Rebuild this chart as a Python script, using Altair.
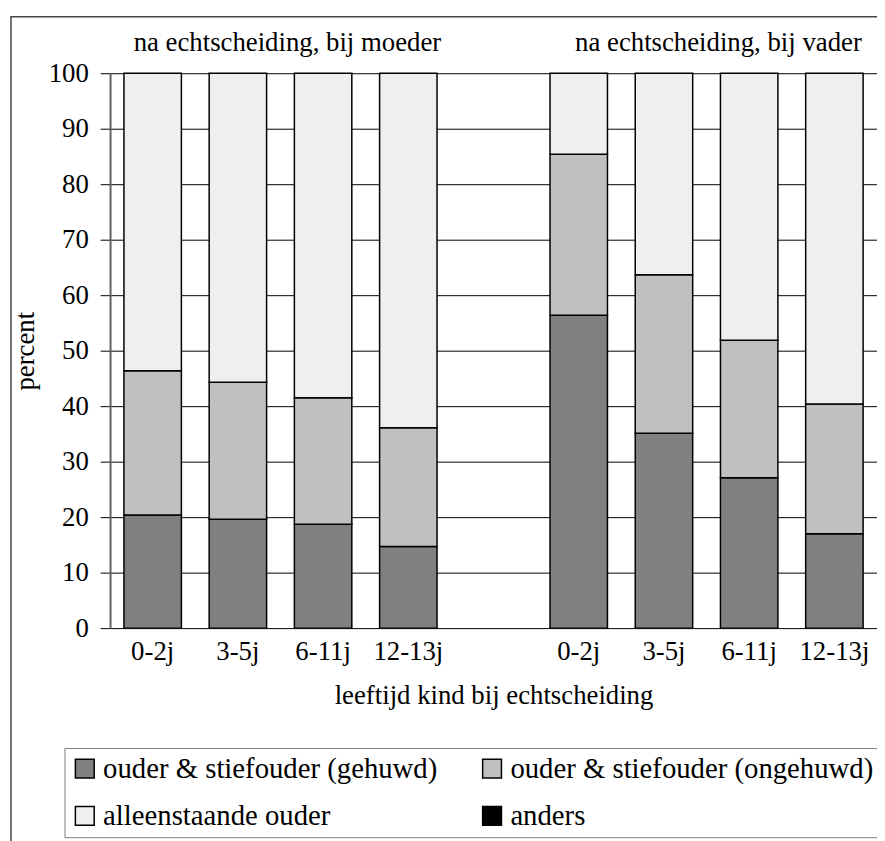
import altair as alt
import pandas as pd

# ---- data ----
ages = ["0-2j", "3-5j", "6-11j", "12-13j"]
groups = ["M", "V"]  # M = bij moeder, V = bij vader
categories = ["ouder & stiefouder (gehuwd)", "ouder & stiefouder (ongehuwd)",
              "alleenstaande ouder", "anders"]

gehuwd_moeder = [20.4, 19.6, 18.7, 14.7]
ongehuwd_moeder = [26.0, 24.7, 22.8, 21.4]
alleen_moeder = [53.6, 55.7, 58.5, 63.9]
anders_moeder = [0.0, 0.0, 0.0, 0.0]

gehuwd_vader = [56.4, 35.1, 27.1, 17.0]
ongehuwd_vader = [29.0, 28.6, 24.8, 23.4]
alleen_vader = [14.6, 36.3, 48.1, 59.6]
anders_vader = [0.0, 0.0, 0.0, 0.0]

group_titles = ["na echtscheiding, bij moeder", "na echtscheiding, bij vader"]
colors = ["#808080", "#c0c0c0", "#efefef", "#000000"]

# ---- build table ----
series = {
    "M": [gehuwd_moeder, ongehuwd_moeder, alleen_moeder, anders_moeder],
    "V": [gehuwd_vader, ongehuwd_vader, alleen_vader, anders_vader],
}
rows = []
for g in groups:
    for ai, a in enumerate(ages):
        for ci, c in enumerate(categories):
            rows.append({"slot": g + a, "cat": c, "k": ci, "value": series[g][ci][ai]})
df = pd.DataFrame(rows)

slot_domain = ["M" + a for a in ages] + ["_"] + ["V" + a for a in ages]

FONT = "Liberation Serif, Times New Roman, serif"

bars = alt.Chart(df).transform_filter(
    alt.datum.value > 0
).mark_bar(stroke="black", strokeWidth=1.5, opacity=1).encode(
    x=alt.X("slot:N", scale=alt.Scale(domain=slot_domain, paddingInner=0.326, paddingOuter=0.163),
            sort=slot_domain,
            axis=alt.Axis(title="leeftijd kind bij echtscheiding", labelExpr="slice(datum.value, 1)",
                          labelAngle=0, ticks=False, domain=False, labelFontSize=27,
                          labelFont=FONT, labelColor="black", labelPadding=11,
                          titleFont=FONT, titleFontSize=27, titleFontWeight="normal",
                          titleColor="black", titlePadding=18)),
    y=alt.Y("value:Q", stack="zero",
            scale=alt.Scale(domain=[0, 100], nice=False),
            axis=alt.Axis(title="percent", values=list(range(0, 101, 10)), tickSize=10,
                          tickColor="black", tickWidth=1, domainColor="#606060", domainWidth=2,
                          grid=True, gridColor="black", gridWidth=1, gridOpacity=1,
                          labelFont=FONT, labelFontSize=27, labelColor="black", labelPadding=12,
                          titleFont=FONT, titleFontSize=27, titleFontWeight="normal",
                          titleColor="black", titlePadding=9)),
    color=alt.Color("cat:N", scale=alt.Scale(domain=categories, range=colors),
                    legend=alt.Legend(orient="none", legendX=-46, legendY=681, columns=2,
                                      direction="horizontal", title=None, symbolType="square",
                                      symbolSize=361, symbolStrokeColor="black",
                                      symbolStrokeWidth=1.5, symbolOpacity=1,
                                      labelFont=FONT, labelFontSize=29, labelColor="black",
                                      labelOffset=4, columnPadding=40, rowPadding=18,
                                      padding=6, strokeColor="#808080", fillColor="white",
                                      labelLimit=0)),
    order=alt.Order("k:Q", sort="ascending"),
)

titles_df = pd.DataFrame({"t": group_titles, "px": [179, 614]})
titles = alt.Chart(titles_df).mark_text(font=FONT, fontSize=27, color="black",
                                        baseline="middle", align="center").encode(
    x=alt.X("px:Q", scale=None), y=alt.value(-30), text="t:N")

frame = alt.Chart(pd.DataFrame({"a": [0]})).mark_rect(
    filled=False, stroke="#444444", strokeWidth=1.5).encode(
    x=alt.value(-100), x2=alt.value(900), y=alt.value(-57), y2=alt.value(900))

chart = alt.layer(frame, bars, titles).properties(
    width=774, height=560, autosize="none",
    padding={"left": 103, "top": 62, "right": 0, "bottom": 211},
).configure_view(strokeWidth=0)

chart.save("out.html", embed_options={"renderer": "svg", "actions": False})
